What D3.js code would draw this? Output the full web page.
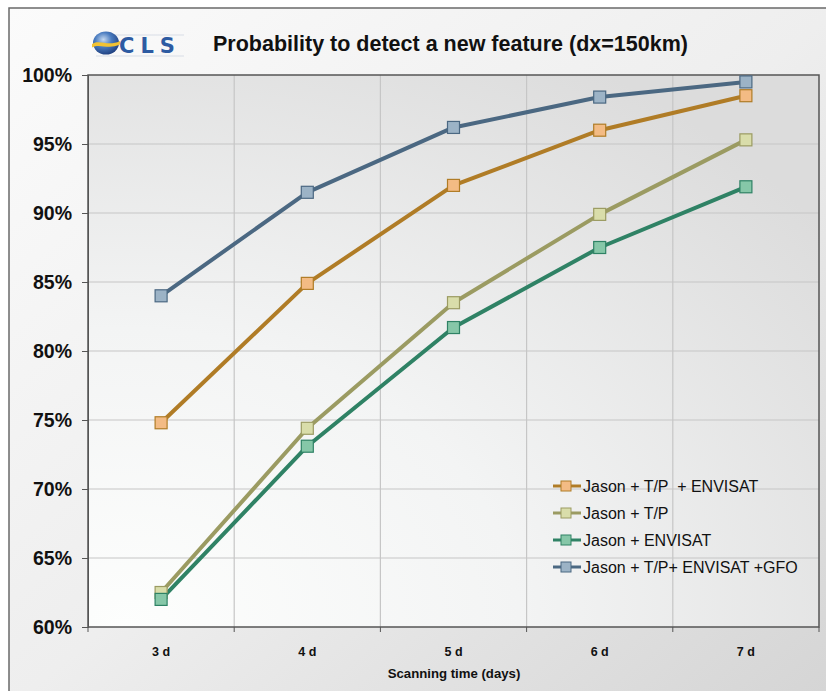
<!DOCTYPE html>
<html><head><meta charset="utf-8">
<script src="https://cdn.jsdelivr.net/npm/d3@7"></script>
<style>html,body{margin:0;padding:0;background:#fff;}svg{display:block;}</style>
</head><body>
<svg id="c" width="826" height="691"></svg>
<script>
const categories = ["3 d","4 d","5 d","6 d","7 d"];
const seriesNames = ["Jason + T/P  + ENVISAT","Jason + T/P","Jason + ENVISAT","Jason + T/P+ ENVISAT +GFO"];
const jasonTpEnvisat = [74.8, 84.9, 92.0, 96.0, 98.5];
const jasonTp = [62.5, 74.4, 83.5, 89.9, 95.3];
const jasonEnvisat = [62.0, 73.1, 81.7, 87.5, 91.9];
const jasonTpEnvisatGfo = [84.0, 91.5, 96.2, 98.4, 99.5];
const yTicks = [60,65,70,75,80,85,90,95,100];
const lineColors = ["#b07c26","#9b9b62","#2f8265","#4b6882"];
const fillColors = ["#f3bb84","#d9ddaa","#86c7a8","#9cb3c6"];

const values = [jasonTpEnvisat, jasonTp, jasonEnvisat, jasonTpEnvisatGfo];
const svg = d3.select("#c");
const defs = svg.append("defs");
const FONT = "Liberation Sans, Arial, sans-serif";

const og = defs.append("linearGradient").attr("id","outerG").attr("x1","0").attr("y1","0").attr("x2","1").attr("y2","1");
og.append("stop").attr("offset","0").attr("stop-color","#fbfbfb");
og.append("stop").attr("offset","0.5").attr("stop-color","#eeeeee");
og.append("stop").attr("offset","1").attr("stop-color","#d4d4d4");

const pg = defs.append("radialGradient").attr("id","plotG").attr("cx","0.05").attr("cy","1").attr("r","1.2").attr("gradientUnits","objectBoundingBox");
pg.append("stop").attr("offset","0").attr("stop-color","#fdfefd");
pg.append("stop").attr("offset","0.45").attr("stop-color","#f3f4f4");
pg.append("stop").attr("offset","1").attr("stop-color","#dcdcdc");

// outer frame
svg.append("rect").attr("x",9).attr("y",8).attr("width",830).attr("height",700)
  .attr("fill","url(#outerG)").attr("stroke","#6a6a6a").attr("stroke-width",1.5);

const L=88, R=819, T=75, B=627;
const x = d3.scaleBand().domain(categories).range([L,R]).padding(0);
const y = d3.scaleLinear().domain([60,100]).range([B,T]);

svg.append("rect").attr("x",L).attr("y",T).attr("width",R-L).attr("height",B-T).attr("fill","url(#plotG)");

// gridlines
svg.append("g").selectAll("line").data(yTicks.slice(1,-1)).join("line")
  .attr("x1",L).attr("x2",R).attr("y1",d=>y(d)).attr("y2",d=>y(d))
  .attr("stroke","#c6c6c6").attr("stroke-width",1.2);
svg.append("g").selectAll("line").data(categories.slice(1)).join("line")
  .attr("x1",d=>x(d)).attr("x2",d=>x(d)).attr("y1",T).attr("y2",B)
  .attr("stroke","#c6c6c6").attr("stroke-width",1.2);

// plot border
svg.append("rect").attr("x",L).attr("y",T).attr("width",R-L).attr("height",B-T)
  .attr("fill","none").attr("stroke","#555").attr("stroke-width",1.5);

// y axis
const yAxis = svg.append("g").attr("transform",`translate(${L},0)`)
  .call(d3.axisLeft(y).tickValues(yTicks).tickFormat(d=>d+"%").tickSize(6).tickPadding(10));
yAxis.select(".domain").attr("stroke","#555");
yAxis.selectAll(".tick line").attr("stroke","#555");
yAxis.selectAll("text").attr("font-family",FONT).attr("font-weight","bold")
  .attr("font-size","19.5px").attr("fill","#111");

// x axis
const xAxis = svg.append("g").attr("transform",`translate(0,${B})`)
  .call(d3.axisBottom(x).tickSize(0).tickPadding(20));
xAxis.select(".domain").remove();
xAxis.selectAll("text").attr("font-family",FONT).attr("font-weight","bold")
  .attr("font-size","12.5px").attr("fill","#111");
svg.append("g").selectAll("line").data(categories.map(c=>x(c)).concat([R])).join("line")
  .attr("x1",d=>d).attr("x2",d=>d).attr("y1",B).attr("y2",B+5).attr("stroke","#555");

svg.append("text").attr("x",454).attr("y",678).attr("text-anchor","middle")
  .attr("font-family",FONT).attr("font-weight","bold").attr("font-size","13.2px")
  .attr("fill","#111").text("Scanning time (days)");

// title
svg.append("text").attr("x",213).attr("y",51)
  .attr("font-family",FONT).attr("font-weight","bold").attr("font-size","21.5px")
  .attr("fill","#111").text("Probability to detect a new feature (dx=150km)");

// logo
const lg = defs.append("radialGradient").attr("id","globeG").attr("cx","0.4").attr("cy","0.35").attr("r","0.7");
lg.append("stop").attr("offset","0").attr("stop-color","#c4d8ef");
lg.append("stop").attr("offset","0.45").attr("stop-color","#4a7cc0");
lg.append("stop").attr("offset","1").attr("stop-color","#1c3c7c");
svg.append("line").attr("x1",96).attr("x2",184).attr("y1",35).attr("y2",35).attr("stroke","#d8dde6").attr("stroke-width",1);
svg.append("line").attr("x1",96).attr("x2",184).attr("y1",56).attr("y2",56).attr("stroke","#d8dde6").attr("stroke-width",1);
svg.append("ellipse").attr("cx",106).attr("cy",43).attr("rx",13).attr("ry",11.5).attr("fill","url(#globeG)");
svg.append("path").attr("d","M92,44 C100,39 108,47 120,41 L120,44.5 C108,50 100,43 92,47.5 Z").attr("fill","#f1c232");
svg.append("text").attr("x",119).attr("y",53).attr("font-family","DejaVu Sans, Verdana, sans-serif")
  .attr("font-size","21px").attr("font-weight","600").attr("letter-spacing","6px").attr("fill","#2d5ba2").text("CLS");

// series
const cx = c => x(c) + x.bandwidth()/2;
const line = d3.line().x((d,i)=>cx(categories[i])).y(d=>y(d));
values.forEach((vals,si)=>{
  svg.append("path").datum(vals).attr("d",line).attr("fill","none")
    .attr("stroke",lineColors[si]).attr("stroke-width",4).attr("stroke-linejoin","round");
});
values.forEach((vals,si)=>{
  svg.append("g").selectAll("rect").data(vals).join("rect")
    .attr("x",(d,i)=>cx(categories[i])-6).attr("y",d=>y(d)-6).attr("width",12).attr("height",12)
    .attr("fill",fillColors[si]).attr("stroke",lineColors[si]).attr("stroke-width",1.2);
});

// legend
const leg = svg.append("g");
seriesNames.forEach((n,i)=>{
  const ly = 486 + i*27;
  leg.append("line").attr("x1",553).attr("x2",581).attr("y1",ly).attr("y2",ly).attr("stroke",lineColors[i]).attr("stroke-width",3);
  leg.append("rect").attr("x",561).attr("y",ly-5).attr("width",10).attr("height",10)
    .attr("fill",fillColors[i]).attr("stroke",lineColors[i]).attr("stroke-width",1);
  leg.append("text").attr("x",583).attr("y",ly+5.5).attr("font-family",FONT)
    .attr("font-size","16px").attr("fill","#111").style("white-space","pre").text(n);
});
</script>
</body></html>
